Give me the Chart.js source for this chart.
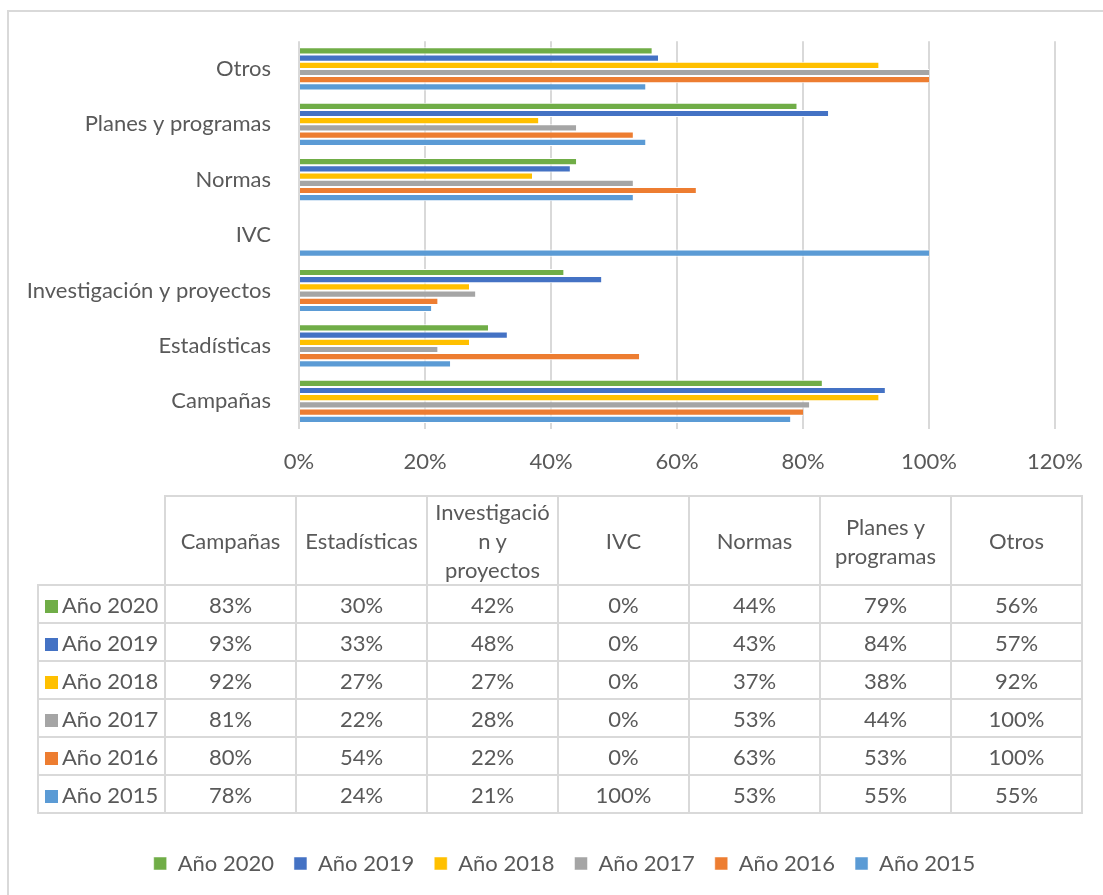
<!DOCTYPE html>
<html>
<head>
<meta charset="utf-8">
<script src="https://cdn.jsdelivr.net/npm/chart.js@4"></script>
<style>
  body { margin: 0; background: #fff; font-family: Lato, "Liberation Sans", sans-serif; color: #595959; }
  #frame { position: absolute; left: 7px; top: 10px; width: 1110px; height: 900px; border: 2px solid #d9d9d9; box-sizing: border-box; }
  #wrap { position: absolute; left: 0; top: 0; width: 1103px; height: 895px; }
  #tbl { position: absolute; left: 37px; top: 495px; border-collapse: collapse; table-layout: fixed; font-size: 22px; }
  #tbl td, #tbl th { border: 2px solid #d9d9d9; text-align: center; font-weight: normal; padding: 0 4px; overflow-wrap: anywhere; line-height: 29px; }
  #tbl th { height: 85px; }
  #tbl td { height: 36px; }
  #tbl th.corner { border-top: none; border-left: none; }
  #tbl td.key { text-align: left; padding-left: 6px; white-space: nowrap; }
  .sw { display: inline-block; width: 13px; height: 13px; margin-right: 4px; }
</style>
</head>
<body>
<div id="frame"></div>
<div id="wrap"><canvas id="chart" width="1103" height="895"></canvas></div>
<table id="tbl"></table>
<script>
// categorías en el orden de la tabla (Campañas abajo en el gráfico)
const categories = ['Campañas', 'Estadísticas', 'Investigación y proyectos', 'IVC', 'Normas', 'Planes y programas', 'Otros'];
const years = ['Año 2020', 'Año 2019', 'Año 2018', 'Año 2017', 'Año 2016', 'Año 2015'];
const colors = ['#70AD47', '#4472C4', '#FFC000', '#A5A5A5', '#ED7D31', '#5B9BD5'];

const valores2020 = [83, 30, 42, 0, 44, 79, 56];
const valores2019 = [93, 33, 48, 0, 43, 84, 57];
const valores2018 = [92, 27, 27, 0, 37, 38, 92];
const valores2017 = [81, 22, 28, 0, 53, 44, 100];
const valores2016 = [80, 54, 22, 0, 63, 53, 100];
const valores2015 = [78, 24, 21, 100, 53, 55, 55];
const series = [valores2020, valores2019, valores2018, valores2017, valores2016, valores2015];

const xTicks = [0, 20, 40, 60, 80, 100, 120];

const textColor = '#595959';
const gridColor = '#d9d9d9';
const font = { family: 'Lato, "Liberation Sans", sans-serif', size: 22 };

// tabla de datos debajo del gráfico
const tbl = document.getElementById('tbl');
let html = '<colgroup><col style="width:127px">';
categories.forEach(() => { html += '<col style="width:131px">'; });
html += '</colgroup><tr><th class="corner"></th>';
categories.forEach(c => { html += '<th>' + c + '</th>'; });
html += '</tr>';
years.forEach((y, i) => {
  html += '<tr><td class="key"><span class="sw" style="background:' + colors[i] + '"></span>' + y + '</td>';
  series[i].forEach(v => { html += '<td>' + v + '%</td>'; });
  html += '</tr>';
});
tbl.innerHTML = html;

const datasets = years.map((y, i) => ({
  label: y,
  data: series[i],
  backgroundColor: colors[i],
  borderColor: '#ffffff',
  borderWidth: { top: 1, bottom: 1, left: 0, right: 0 },
  barPercentage: 1,
  categoryPercentage: 0.78
}));

const legendPad = 20;

// la leyenda de Excel queda centrada un poco a la derecha
const shiftLegend = {
  id: 'shiftLegend',
  afterLayout(chart) {
    if (chart.legend) {
      chart.legend.left += 37;
      chart.legend.right += 37;
    }
  }
};

new Chart(document.getElementById('chart'), {
  type: 'bar',
  data: { labels: categories, datasets },
  plugins: [shiftLegend],
  options: {
    indexAxis: 'y',
    responsive: false,
    animation: false,
    layout: { padding: { left: 0, right: 48, top: 40, bottom: 10.5 } },
    scales: {
      x: {
        min: xTicks[0],
        max: xTicks[xTicks.length - 1],
        ticks: {
          stepSize: xTicks[1] - xTicks[0],
          color: textColor,
          font,
          padding: 20,
          callback: v => v + '%'
        },
        grid: { color: gridColor, lineWidth: 2, drawTicks: false },
        border: { display: false },
        afterFit: s => { s.height = 423.5 - legendPad; }
      },
      y: {
        reverse: true,
        ticks: { color: textColor, font, padding: 28 },
        grid: { display: false, drawTicks: false },
        border: { display: false },
        afterFit: s => { s.width = 299; }
      }
    },
    plugins: {
      legend: {
        position: 'bottom',
        labels: { color: textColor, font, boxWidth: 13, boxHeight: 13, padding: legendPad }
      },
      tooltip: { enabled: false }
    }
  }
});
</script>
</body>
</html>
